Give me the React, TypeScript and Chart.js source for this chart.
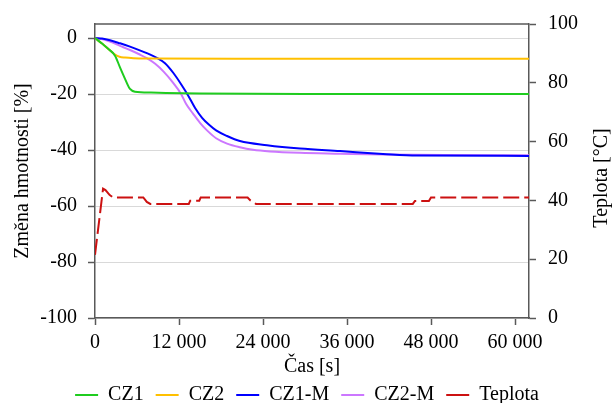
import { useEffect, useRef } from "react";
import { Chart, registerables } from "chart.js";

Chart.register(...registerables);

// ---- data (time in s, mass change in %, temperature in °C) ----
const cz1Time = [0, 1000, 2000, 2860, 3570, 4290, 5000, 5710, 8000, 15000, 30000, 62000];
const cz1Values = [0, -2.0, -4.1, -6.3, -10.5, -14.6, -18.2, -19.2, -19.5, -19.8, -20, -20];

const cz2Time = [0, 1000, 2000, 2860, 3500, 4300, 5500, 8000, 20000, 62000];
const cz2Values = [0, -2.0, -4.1, -5.9, -6.7, -7.0, -7.2, -7.3, -7.4, -7.4];

const cz1mTime = [0, 1000, 2140, 3570, 5000, 6400, 7500, 8900, 10000, 11200, 12300, 13300, 14300, 15300, 16300, 17300, 18860, 20700, 24570, 29290, 35000, 41140, 46000, 62000];
const cz1mValues = [0, -0.2, -0.8, -1.9, -3.1, -4.4, -5.5, -7.2, -9.0, -12.5, -16.5, -20.5, -25, -28.5, -31, -33, -35, -36.8, -38.3, -39.5, -40.4, -41.4, -42, -42.1];

const cz2mTime = [0, 1000, 2140, 3570, 5000, 6400, 7400, 8600, 9800, 11000, 12300, 13000, 14000, 15000, 16000, 17300, 18860, 20700, 22570, 25000, 29290, 35000, 41140, 50000, 62000];
const cz2mValues = [0, -0.4, -1.3, -2.8, -4.3, -5.9, -7.2, -9.2, -12, -15.5, -20, -23.5, -27, -30.3, -33, -35.8, -37.7, -39, -39.9, -40.5, -41, -41.3, -41.6, -41.8, -41.9];

const tempTime = [0, 1150, 1500, 2100, 2600, 6900, 7400, 7900, 13400, 13600, 14900, 15100, 21800, 22200, 23000, 45400, 45700, 47700, 48000, 62000];
const tempValues = [21.5, 44, 43.5, 41.8, 41, 41, 39.5, 38.8, 38.8, 39.9, 39.9, 41, 41, 40, 38.8, 38.8, 39.8, 39.8, 41, 41];

const xTicks = [0, 12000, 24000, 36000, 48000, 60000];
const massTicks = [-100, -80, -60, -40, -20, 0];
const tempTicks = [0, 20, 40, 60, 80, 100];

const seriesNames = ["CZ1", "CZ2", "CZ1-M", "CZ2-M", "Teplota"];
const rightTitle = "Teplota [°C]";

const FONT = "'Liberation Serif', 'Times New Roman', serif";
const AXIS = "#595959";

function pts(t: number[], v: number[]) {
  return t.map((x, i) => ({ x, y: v[i] }));
}

function fmt(v: number) {
  return String(Math.round(v)).replace(/\B(?=(\d{3})+(?!\d))/g, " ");
}

export default function App() {
  const ref = useRef<HTMLCanvasElement>(null);

  useEffect(() => {
    const frame = {
      id: "frame",
      afterDatasetsDraw(chart: any) {
        const { ctx, chartArea: a } = chart;
        ctx.save();
        ctx.strokeStyle = AXIS;
        ctx.lineWidth = 1.5;
        ctx.beginPath();
        ctx.moveTo(a.left, a.top);
        ctx.lineTo(a.right, a.top);
        ctx.stroke();
        // right axis title, reading bottom-to-top like the left one
        const s = chart.scales.y1;
        ctx.fillStyle = "#000";
        ctx.font = `20px ${FONT}`;
        ctx.textAlign = "center";
        ctx.textBaseline = "middle";
        ctx.translate(s.right - 12, (a.top + a.bottom) / 2 + 7);
        ctx.rotate(-Math.PI / 2);
        ctx.fillText(rightTitle, 0, 0);
        ctx.restore();
      },
    };

    const mass = (label: string, t: number[], v: number[], color: string) => ({
      label,
      data: pts(t, v),
      borderColor: color,
      backgroundColor: color,
      borderWidth: 2,
      pointRadius: 0,
      cubicInterpolationMode: "monotone" as const,
      yAxisID: "y",
    });

    const chart = new Chart(ref.current!, {
      type: "line",
      data: {
        datasets: [
          mass(seriesNames[0], cz1Time, cz1Values, "#1fcc1f"),
          mass(seriesNames[1], cz2Time, cz2Values, "#ffc000"),
          mass(seriesNames[2], cz1mTime, cz1mValues, "#0000ff"),
          mass(seriesNames[3], cz2mTime, cz2mValues, "#cc77ff"),
          {
            label: seriesNames[4],
            data: pts(tempTime, tempValues),
            borderColor: "#cc1111",
            backgroundColor: "#cc1111",
            borderWidth: 2,
            borderDash: [16, 5],
            pointRadius: 0,
            tension: 0,
            yAxisID: "y1",
          },
        ],
      },
      options: {
        responsive: true,
        maintainAspectRatio: false,
        animation: false,
        layout: { padding: { top: 19, left: 0, right: 0, bottom: -12 } },
        plugins: {
          legend: {
            position: "bottom",
            labels: {
              usePointStyle: true,
              pointStyle: "line",
              pointStyleWidth: 23,
              padding: 12,
              color: "#000",
              font: { family: FONT, size: 20 },
            },
          },
          tooltip: { enabled: false },
        },
        scales: {
          x: {
            type: "linear",
            min: 0,
            max: 62000,
            afterBuildTicks: (s: any) => {
              s.ticks = xTicks.map((v) => ({ value: v }));
            },
            afterFit: (s: any) => {
              const lh = s.chart.legend ? s.chart.legend.height : 0;
              s.height = s.chart.height + 12 - lh - 318;
            },
            grid: { drawOnChartArea: false, tickLength: 7, tickColor: AXIS, tickWidth: 1.5 },
            border: { color: AXIS, width: 1.5 },
            ticks: {
              padding: 6,
              color: "#000",
              font: { family: FONT, size: 20 },
              maxRotation: 0,
              callback: (v: any) => fmt(Number(v)),
            },
            title: {
              display: true,
              text: "Čas [s]",
              color: "#000",
              font: { family: FONT, size: 20 },
              padding: { bottom: -6, top: 0 },
            },
          },
          y: {
            type: "linear",
            position: "left",
            min: -100,
            max: 5,
            afterBuildTicks: (s: any) => {
              s.ticks = massTicks.map((v) => ({ value: v }));
            },
            afterFit: (s: any) => {
              s.width = 95;
            },
            grid: { color: "#d9d9d9", lineWidth: 1, tickLength: 7, tickColor: AXIS, tickWidth: 1.5 },
            border: { color: AXIS, width: 1.5 },
            ticks: {
              padding: 11,
              color: "#000",
              font: { family: FONT, size: 20 },
              callback: (v: any) => String(v),
            },
            title: {
              display: true,
              text: "Změna hmotnosti [%]",
              color: "#000",
              font: { family: FONT, size: 20 },
              padding: { top: 11, bottom: 0 },
            },
          },
          y1: {
            type: "linear",
            position: "right",
            min: 0,
            max: 100,
            afterBuildTicks: (s: any) => {
              s.ticks = tempTicks.map((v) => ({ value: v }));
            },
            afterFit: (s: any) => {
              s.width = 85;
            },
            grid: { drawOnChartArea: false, tickLength: 7, tickColor: AXIS, tickWidth: 1.5 },
            border: { color: AXIS, width: 1.5 },
            ticks: {
              padding: 12,
              color: "#000",
              font: { family: FONT, size: 20 },
              callback: (v: any) => String(v),
            },
            title: { display: false },
          },
        },
      },
      plugins: [frame],
    });

    return () => chart.destroy();
  }, []);

  return (
    <div style={{ position: "absolute", left: 0, top: 0, width: 614, height: 403 }}>
      <canvas ref={ref} />
    </div>
  );
}
